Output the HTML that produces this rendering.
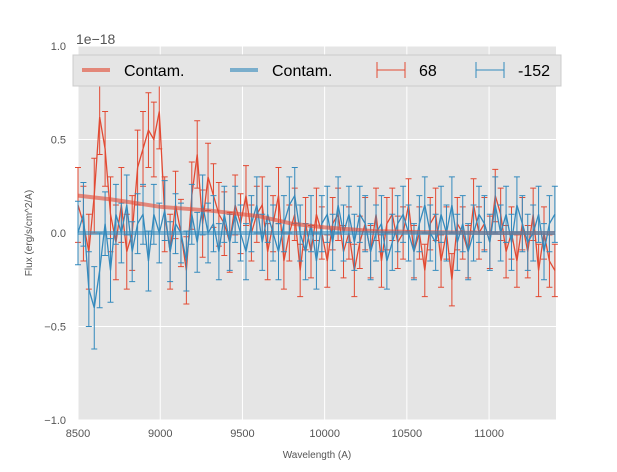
<!DOCTYPE html>
<html><head><meta charset="utf-8"><style>
body{margin:0;background:#fff;font-family:"Liberation Sans",sans-serif}
svg text{font-family:"Liberation Sans",sans-serif}
</style></head><body>
<svg id="c" width="617" height="467">
<rect x="78" y="46" width="478" height="374" fill="#e5e5e5"/>
<g id="grid"></g><g id="marks"></g><g id="axes"></g>
</svg>
<script>
const categoriesStart = 8500, categoriesEnd = 11400;
const redValues = [0.15,0.05,-0.1,0.2,0.62,0.45,0.1,-0.05,0.15,-0.1,0.0,0.35,0.45,0.55,0.5,0.65,0.1,-0.1,0.15,0.0,-0.2,0.2,0.42,0.05,0.3,0.2,0.1,0.05,-0.05,0.15,0.05,0.2,0.0,0.1,0.15,-0.1,0.05,0.2,-0.15,0.0,0.1,-0.2,0.05,-0.1,0.1,0.0,-0.15,0.05,0.1,-0.1,0.0,-0.2,-0.05,0.05,-0.1,0.1,-0.15,0.05,0.1,-0.05,0.0,0.15,-0.1,0.0,-0.2,0.05,0.1,-0.15,0.0,-0.25,0.05,0.0,-0.1,0.15,0.0,0.05,-0.05,0.2,0.1,-0.1,0.0,-0.15,0.05,-0.1,0.1,-0.2,0.0,-0.15,-0.2];
const redErrors = [0.2,0.2,0.2,0.2,0.2,0.2,0.2,0.2,0.2,0.2,0.2,0.2,0.2,0.2,0.2,0.2,0.2,0.2,0.18,0.18,0.18,0.18,0.18,0.18,0.18,0.17,0.17,0.17,0.16,0.16,0.16,0.16,0.15,0.15,0.15,0.15,0.15,0.15,0.15,0.15,0.14,0.14,0.14,0.14,0.14,0.14,0.14,0.14,0.14,0.14,0.14,0.14,0.14,0.14,0.14,0.14,0.14,0.14,0.14,0.14,0.14,0.14,0.14,0.14,0.14,0.14,0.14,0.14,0.14,0.14,0.14,0.14,0.14,0.14,0.14,0.14,0.14,0.14,0.14,0.14,0.14,0.14,0.14,0.14,0.14,0.14,0.14,0.14,0.14];
const blueValues = [0.0,0.1,-0.3,-0.4,-0.2,0.05,-0.2,0.1,0.0,0.15,-0.1,0.05,0.1,-0.15,0.1,0.0,0.12,-0.1,0.05,0.0,-0.15,0.1,-0.05,0.15,0.0,0.05,-0.1,0.1,-0.05,0.1,0.0,-0.1,0.05,0.15,-0.05,0.1,0.0,-0.1,0.05,0.15,0.2,0.0,-0.1,0.05,-0.15,0.05,0.1,-0.05,0.15,0.0,0.1,-0.05,0.1,0.05,-0.1,0.0,0.05,-0.15,-0.05,0.05,0.1,0.0,-0.1,0.05,0.15,0.0,-0.05,0.1,0.0,0.15,-0.05,0.05,-0.1,0.0,0.1,0.05,-0.05,0.15,0.0,0.1,-0.05,0.15,0.05,-0.05,0.0,0.1,-0.1,0.05,0.1];
const blueErrors = [0.17,0.17,0.2,0.22,0.2,0.17,0.17,0.16,0.16,0.16,0.16,0.16,0.16,0.16,0.16,0.16,0.16,0.16,0.16,0.16,0.16,0.16,0.16,0.16,0.16,0.15,0.15,0.15,0.15,0.15,0.15,0.15,0.15,0.15,0.15,0.15,0.15,0.15,0.15,0.15,0.15,0.15,0.15,0.15,0.15,0.15,0.15,0.15,0.15,0.15,0.15,0.15,0.15,0.15,0.15,0.15,0.15,0.15,0.15,0.15,0.15,0.15,0.15,0.15,0.15,0.15,0.15,0.15,0.15,0.15,0.15,0.15,0.15,0.15,0.15,0.15,0.15,0.15,0.15,0.15,0.15,0.15,0.15,0.15,0.15,0.15,0.15,0.15,0.15];
const contamX = [8500,8700,9000,9300,9600,9800,10000,10300,10600,11000,11400];
const contamRed = [0.2,0.18,0.14,0.12,0.09,0.05,0.03,0.01,0.005,0,0];
const contamBlue = [0,0,0,0,0,0,0,0,0,0,0];
const xTicks = [8500,9000,9500,10000,10500,11000];
const yTicks = [-1.0,-0.5,0.0,0.5,1.0];
const yTickLabels = ["−1.0","−0.5","0.0","0.5","1.0"];

const NS="http://www.w3.org/2000/svg";
const X0=78,X1=556,Y0=420,Y1=46;
const xs=v=>X0+(v-8500)/(11407-8500)*(X1-X0);
const ys=v=>Y0-(v+1)/2*(Y0-Y1);
function mk(t,a,p){const e=document.createElementNS(NS,t);for(const k in a)e.setAttribute(k,a[k]);(p||document.getElementById('marks')).appendChild(e);return e;}
const grid=document.getElementById('grid'),axes=document.getElementById('axes');
xTicks.forEach(t=>{
 const g=mk('line',{x1:xs(t),x2:xs(t),y1:Y1,y2:Y0,stroke:'#fff','stroke-width':1},grid);
 
 
 const l=mk('text',{x:xs(t),y:Y0+17,'text-anchor':'middle','font-size':11,fill:'#555'},axes);
 l.textContent=t;
 
 
});
yTicks.forEach((t,i)=>{
 const g=mk('line',{x1:X0,x2:X1,y1:ys(t),y2:ys(t),stroke:'#fff','stroke-width':1},grid);
 
 
 const l=mk('text',{x:X0-12,y:ys(t)+4,'text-anchor':'end','font-size':11,fill:'#555'},axes);
 l.textContent=yTickLabels[i];
 
 
});
function series(vals,errs,color,name){
 const n=vals.length,step=(categoriesEnd-categoriesStart)/(n-1);
 let d='';
 vals.forEach((v,i)=>{
  const x=xs(categoriesStart+i*step),e=errs[i]||0.15;
  const b=mk('path',{d:`M${x},${ys(v-e)}V${ys(v+e)}M${x-3},${ys(v-e)}h6M${x-3},${ys(v+e)}h6`,stroke:color,'stroke-width':1,fill:'none'});
  
  
  d+=(i?'L':'M')+x+','+ys(v);
 });
 const l=mk('path',{d,stroke:color,'stroke-width':1.3,fill:'none'});
 
 
}
function contam(vals,color,name){
 let d='';vals.forEach((v,i)=>{d+=(i?'L':'M')+xs(contamX[i])+','+ys(v);});
 const l=mk('path',{d,stroke:color,'stroke-width':4,fill:'none',opacity:0.6});
 
 
}
series(redValues,redErrors,'#e24a33','series-68');
series(blueValues,blueErrors,'#348abd','series-neg152');
contam(contamRed,'#e24a33','contam-red-line');
contam(contamBlue,'#348abd','contam-blue-line');
</script>
<svg style="position:absolute;left:0;top:0" width="617" height="467">
<text x="76" y="44" font-size="14" fill="#555">1e−18</text>
<text x="317" y="458" text-anchor="middle" font-size="10" fill="#555">Wavelength (A)</text>
<text transform="translate(32,233) rotate(-90)" text-anchor="middle" font-size="10" fill="#555">Flux (erg/s/cm^2/A)</text>
<g>
<rect x="73" y="55" width="488" height="31" fill="#e5e5e5" stroke="#ccc"/>
<line x1="82" y1="70" x2="110" y2="70" stroke="#e24a33" stroke-width="4" opacity="0.6"/>
<text x="124" y="76" font-size="16" fill="#000">Contam.</text>
<line x1="230" y1="70" x2="258" y2="70" stroke="#348abd" stroke-width="4" opacity="0.6"/>
<text x="272" y="76" font-size="16" fill="#000">Contam.</text>
<path d="M377,62V78M405,62V78M377,70h28" stroke="#e24a33" fill="none"/>
<text x="419" y="76" font-size="16" fill="#000">68</text>
<path d="M476,62V78M504,62V78M476,70h28" stroke="#348abd" fill="none"/>
<text x="518" y="76" font-size="16" fill="#000">-152</text>
</g>
</svg>
</body></html>
